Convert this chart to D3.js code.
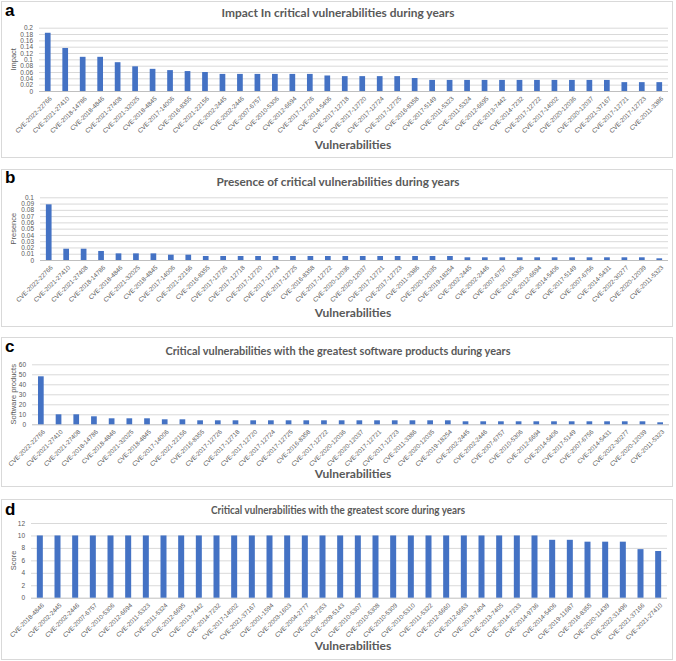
<!DOCTYPE html>
<html><head><meta charset="utf-8">
<script src="https://cdn.jsdelivr.net/npm/d3@7"></script>
<style>body{margin:0;background:#fff}svg{display:block}</style>
</head><body>
<svg id="chart" width="676" height="661"></svg>
<script>
// ---------- DATA ----------
const catsA = ["CVE-2022-22766","CVE-2021-27410","CVE-2018-14786","CVE-2018-4846","CVE-2021-27408","CVE-2021-32025","CVE-2018-4845","CVE-2017-14006","CVE-2016-8355","CVE-2021-22156","CVE-2002-2445","CVE-2002-2446","CVE-2007-6757","CVE-2010-5306","CVE-2012-6694","CVE-2017-12726","CVE-2014-5406","CVE-2017-12718","CVE-2017-12720","CVE-2017-12724","CVE-2017-12725","CVE-2016-8358","CVE-2017-5149","CVE-2011-5323","CVE-2011-5324","CVE-2012-6695","CVE-2013-7442","CVE-2014-7232","CVE-2017-12722","CVE-2017-14002","CVE-2020-12036","CVE-2020-12037","CVE-2021-37167","CVE-2017-12721","CVE-2017-12723","CVE-2011-3386"];
const valsA = [0.184,0.136,0.108,0.108,0.091,0.078,0.07,0.066,0.063,0.06,0.054,0.054,0.054,0.054,0.054,0.054,0.049,0.047,0.047,0.047,0.047,0.041,0.035,0.035,0.035,0.035,0.035,0.035,0.035,0.035,0.035,0.035,0.035,0.028,0.028,0.028];
const ticksA = [0,0.02,0.04,0.06,0.08,0.1,0.12,0.14,0.16,0.18,0.2];

const catsB = ["CVE-2022-22766","CVE-2021-27410","CVE-2021-27408","CVE-2018-14786","CVE-2018-4846","CVE-2021-32025","CVE-2018-4845","CVE-2017-14006","CVE-2021-22156","CVE-2016-8355","CVE-2017-12726","CVE-2017-12718","CVE-2017-12720","CVE-2017-12724","CVE-2017-12725","CVE-2016-8358","CVE-2017-12722","CVE-2020-12036","CVE-2020-12037","CVE-2017-12721","CVE-2017-12723","CVE-2011-3386","CVE-2020-12035","CVE-2019-18254","CVE-2002-2445","CVE-2002-2446","CVE-2007-6757","CVE-2010-5306","CVE-2012-6694","CVE-2014-5406","CVE-2017-5149","CVE-2007-6756","CVE-2014-5431","CVE-2022-30277","CVE-2020-12039","CVE-2011-5323"];
const valsB = [0.0888,0.018,0.018,0.0144,0.0106,0.0106,0.0106,0.0085,0.0085,0.0064,0.0064,0.0064,0.0064,0.0064,0.0064,0.0064,0.0064,0.0064,0.0064,0.0064,0.0064,0.0064,0.0064,0.0064,0.0043,0.0043,0.0043,0.0043,0.0043,0.0043,0.0043,0.0043,0.0043,0.0043,0.0043,0.0027];
const ticksB = [0,0.01,0.02,0.03,0.04,0.05,0.06,0.07,0.08,0.09,0.1];

const catsC = catsB.slice();
const valsC = [48,10,10,8,6,6,6,5,5,4,4,4,4,4,4,4,4,4,4,4,4,4,4,4,3,3,3,3,3,3,3,3,3,3,3,2];
const ticksC = [0,10,20,30,40,50,60];

const catsD = ["CVE-2018-4846","CVE-2002-2445","CVE-2002-2446","CVE-2007-6757","CVE-2010-5306","CVE-2012-6694","CVE-2011-5323","CVE-2011-5324","CVE-2012-6695","CVE-2013-7442","CVE-2014-7232","CVE-2017-14002","CVE-2021-37167","CVE-2001-1594","CVE-2003-1603","CVE-2004-2777","CVE-2006-7253","CVE-2009-5143","CVE-2010-5307","CVE-2010-5308","CVE-2010-5309","CVE-2010-5310","CVE-2011-5322","CVE-2012-6660","CVE-2012-6663","CVE-2013-7404","CVE-2013-7405","CVE-2014-7233","CVE-2014-9736","CVE-2014-5406","CVE-2019-11687","CVE-2016-8355","CVE-2020-11439","CVE-2022-31496","CVE-2021-37166","CVE-2021-27410"];
const valsD = [10,10,10,10,10,10,10,10,10,10,10,10,10,10,10,10,10,10,10,10,10,10,10,10,10,10,10,10,10,9.3,9.3,9.0,9.0,9.0,7.8,7.5];
const ticksD = [0,2,4,6,8,10,12];

// ---------- DRAW ----------
const svg = d3.select("#chart");
const BLUE = "#4472C4", GRAY = "#595959", GRID = "#d9d9d9";
const TF = "Lato, 'Open Sans', sans-serif";
const LF = "'Liberation Sans', Arial, sans-serif";

function panel(o) {
  const g = svg.append("g");
  g.append("rect").attr("x", o.box[0]).attr("y", o.box[1]).attr("width", o.box[2]).attr("height", o.box[3])
    .attr("fill", "#fff").attr("stroke", GRID).attr("stroke-width", 1);
  g.append("text").attr("x", 5).attr("y", o.letterY).text(o.letter)
    .attr("font-family", LF).attr("font-weight", "bold").attr("font-size", 17).attr("fill", "#000");
  g.append("text").attr("x", 338).attr("y", o.titleY).attr("text-anchor", "middle").text(o.title)
    .attr("font-family", TF).attr("font-weight", "bold").attr("font-size", 11.5).attr("fill", GRAY)
    .attr("textLength", o.titleW).attr("lengthAdjust", "spacingAndGlyphs");

  const x = d3.scaleBand().domain(o.cats).range(o.xr).paddingInner(o.pad).paddingOuter(o.pad / 2);
  const y = d3.scaleLinear().domain([0, o.ymax]).range(o.yr);

  // grid
  g.append("g").selectAll("line").data(o.ticks).join("line")
    .attr("x1", o.xr[0]).attr("x2", o.xr[1]).attr("y1", d => y(d) + 0.5).attr("y2", d => y(d) + 0.5)
    .attr("stroke", (d) => d === 0 ? "#bfbfbf" : GRID).attr("stroke-width", 1);

  // y axis labels
  const ya = d3.axisLeft(y).tickValues(o.ticks).tickSize(0).tickPadding(o.ypad).tickFormat(d3.format(o.fmt));
  const yg = g.append("g").attr("transform", `translate(${o.xr[0]},0)`).call(ya);
  yg.select(".domain").remove();
  yg.selectAll("text").attr("font-family", LF).attr("font-size", 6.5).attr("fill", GRAY);

  // bars
  g.append("g").selectAll("rect").data(o.vals).join("rect")
    .attr("x", (d, i) => x(o.cats[i]) + (x.bandwidth() - o.bw) / 2)
    .attr("width", o.bw)
    .attr("y", d => y(d)).attr("height", d => y(0) - y(d)).attr("fill", BLUE);

  // x axis labels
  const xa = d3.axisBottom(x).tickSize(0).tickPadding(0);
  const xg = g.append("g").attr("transform", `translate(0,${o.yr[0]})`).call(xa);
  xg.select(".domain").remove();
  xg.selectAll(".tick text")
    .attr("font-family", LF).attr("font-size", 6.3).attr("fill", GRAY)
    .attr("text-anchor", "end")
    .attr("transform", "translate(3,6.5) rotate(-45)")
    .attr("dy", "0.35em").attr("y", 0).attr("x", 0);

  // axis titles
  g.append("text").attr("transform", `translate(${o.ylabX},${(o.yr[0] + o.yr[1]) / 2}) rotate(-90)`)
    .attr("text-anchor", "middle").text(o.ylab)
    .attr("font-family", LF).attr("font-size", 7.5).attr("fill", GRAY);
  g.append("text").attr("x", 353).attr("y", o.xtitleY).attr("text-anchor", "middle").text("Vulnerabilities")
    .attr("font-family", TF).attr("font-weight", "bold").attr("font-size", 12).attr("fill", GRAY);
}

panel({letter: "a", letterY: 16, box: [1.5, 1.5, 671, 156], title: "Impact In critical vulnerabilities during years",
  titleY: 17, titleW: 233, cats: catsA, vals: valsA, ticks: ticksA, ymax: 0.2, fmt: "~g",
  xr: [39, 668], yr: [91, 27.7], pad: 0.67, bw: 5.7, ypad: 6, ylab: "Impact", ylabX: 16, xtitleY: 149});
panel({letter: "b", letterY: 183, box: [1.5, 169.5, 671, 157], title: "Presence of critical vulnerabilities during years",
  titleY: 186, titleW: 243, cats: catsB, vals: valsB, ticks: ticksB, ymax: 0.1, fmt: "~g",
  xr: [40, 668], yr: [260, 197.3], pad: 0.67, bw: 5.7, ypad: 6, ylab: "Presence", ylabX: 16, xtitleY: 317});
panel({letter: "c", letterY: 352, box: [1.5, 337.5, 671, 149], title: "Critical vulnerabilities with the greatest software products during years",
  titleY: 355, titleW: 345, cats: catsC, vals: valsC, ticks: ticksC, ymax: 60, fmt: "d",
  xr: [32, 669], yr: [424.3, 364.3], pad: 0.67, bw: 5.7, ypad: 6, ylab: "Software products", ylabX: 16, xtitleY: 478});
panel({letter: "d", letterY: 515, box: [1.5, 499.5, 671, 160], title: "Critical vulnerabilities with the greatest score during years",
  titleY: 514, titleW: 254, cats: catsD, vals: valsD, ticks: ticksD, ymax: 12, fmt: "d",
  xr: [31, 667], yr: [597.7, 523], pad: 0.66, bw: 6, ypad: 6, ylab: "Score", ylabX: 16, xtitleY: 650});
</script>
</body></html>
